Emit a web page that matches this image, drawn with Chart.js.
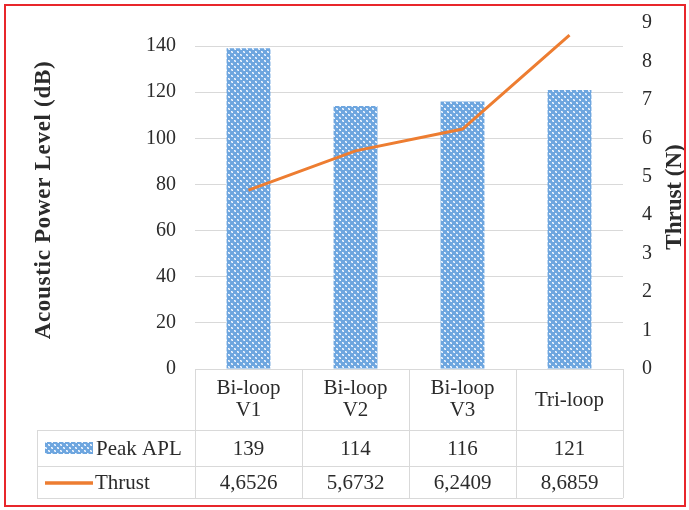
<!DOCTYPE html>
<html>
<head>
<meta charset="utf-8">
<script src="https://cdn.jsdelivr.net/npm/chart.js@4/dist/chart.umd.min.js"></script>
<style>
  html, body { margin: 0; padding: 0; background: #ffffff; }
  #wrap { width: 689px; height: 510px; position: relative; }
</style>
</head>
<body>
<div id="wrap"><canvas id="chart" width="689" height="510"></canvas></div>
<script>
// Configurations (multi-line labels as arrays)
const categories = [['Bi-loop', 'V1'], ['Bi-loop', 'V2'], ['Bi-loop', 'V3'], ['Tri-loop']];
// Peak acoustic power level, dB
const peakAPL = [139, 114, 116, 121];
// Thrust, N
const thrust = [4.6526, 5.6732, 6.2409, 8.6859];
// Axis ticks
const aplTicks = [0, 20, 40, 60, 80, 100, 120, 140];
const thrustTicks = [0, 1, 2, 3, 4, 5, 6, 7, 8, 9];

const seriesNames = ['Peak APL', 'Thrust'];
const BLUE = '#6ea6df';
const ORANGE = '#ed7d31';
const TEXT = '#2b2b2b';
const GRID = '#d9d9d9';
const SERIF = '"Liberation Serif", "Times New Roman", serif';

// Dotted-diamond fill used for the bars
function makePattern() {
  const c = document.createElement('canvas');
  c.width = 6; c.height = 6;
  const g = c.getContext('2d');
  g.fillStyle = BLUE;
  g.fillRect(0, 0, 6, 6);
  g.fillStyle = '#bcd6f3';
  g.fillRect(0, 0, 2, 2);
  g.fillRect(3, 3, 2, 2);
  g.fillStyle = '#f4f8fe';
  g.fillRect(0, 0, 1, 1);
  g.fillRect(3, 3, 1, 1);
  g.fillRect(1, 1, 1, 1);
  g.fillRect(4, 4, 1, 1);
  return g.createPattern(c, 'repeat');
}
const barFill = makePattern();

const fmtThrust = v => v.toFixed(4).replace('.', ',');
const fmtAPL = v => String(v);

// Let the layout padding alone decide where the plot area starts and ends
const noLabelOverhang = s => { s.paddingTop = 0; s.paddingBottom = 0; };

// Axis titles, data table under the plot and the frame
const decorations = {
  id: 'decorations',
  afterDraw(chart) {
    const ctx = chart.ctx;
    const area = chart.chartArea;
    const n = categories.length;
    const colW = (area.right - area.left) / n;
    const top = area.bottom;
    const r1 = top + 61, r2 = r1 + 36, r3 = r2 + 32;
    const legendLeft = 37;

    ctx.save();
    // table grid
    ctx.strokeStyle = GRID;
    ctx.lineWidth = 1;
    ctx.beginPath();
    ctx.moveTo(area.left, top + 0.5); ctx.lineTo(area.right, top + 0.5);
    [r1, r2, r3].forEach(y => { ctx.moveTo(legendLeft, y + 0.5); ctx.lineTo(area.right, y + 0.5); });
    ctx.moveTo(legendLeft + 0.5, r1); ctx.lineTo(legendLeft + 0.5, r3);
    for (let i = 0; i <= n; i++) {
      const x = Math.round(area.left + i * colW) + 0.5;
      ctx.moveTo(x, top); ctx.lineTo(x, r3);
    }
    ctx.stroke();

    // category header cells and values
    ctx.fillStyle = TEXT;
    ctx.textAlign = 'center';
    ctx.textBaseline = 'middle';
    ctx.font = '21px ' + SERIF;
    const xs = chart.scales.x;
    categories.forEach((lines, i) => {
      const cx = xs.getPixelForValue(i);
      if (lines.length === 1) {
        ctx.fillText(lines[0], cx, top + 31);
      } else {
        ctx.fillText(lines[0], cx, top + 19);
        ctx.fillText(lines[1], cx, top + 41);
      }
      ctx.fillText(fmtAPL(peakAPL[i]), cx, (r1 + r2) / 2 + 1);
      ctx.fillText(fmtThrust(thrust[i]), cx, (r2 + r3) / 2 + 1);
    });

    // legend keys in the first column
    ctx.fillStyle = barFill;
    ctx.fillRect(45, (r1 + r2) / 2 - 6, 48, 12);
    ctx.strokeStyle = ORANGE;
    ctx.lineWidth = 3.5;
    ctx.beginPath();
    ctx.moveTo(45, (r2 + r3) / 2 + 1); ctx.lineTo(93, (r2 + r3) / 2 + 1);
    ctx.stroke();
    ctx.fillStyle = TEXT;
    ctx.textAlign = 'left';
    ctx.fillText(seriesNames[0], 96, (r1 + r2) / 2 + 1);
    ctx.fillText(seriesNames[1], 95, (r2 + r3) / 2 + 1);

    // axis titles, both reading bottom to top
    ctx.font = 'bold 23px ' + SERIF;
    ctx.textAlign = 'center';
    ctx.save();
    ctx.translate(44, 200);
    ctx.rotate(-Math.PI / 2);
    ctx.letterSpacing = '0.7px';
    ctx.fillText('Acoustic Power Level (dB)', 0, 0);
    ctx.restore();
    ctx.save();
    ctx.translate(675, 197);
    ctx.rotate(-Math.PI / 2);
    ctx.fillText('Thrust (N)', 0, 0);
    ctx.restore();

    // red frame
    ctx.strokeStyle = '#e8262b';
    ctx.lineWidth = 2;
    ctx.strokeRect(5, 5, 680, 501);
    ctx.restore();
  }
};

new Chart(document.getElementById('chart'), {
  data: {
    labels: categories,
    datasets: [
      {
        type: 'line',
        label: seriesNames[1],
        data: thrust,
        yAxisID: 'y2',
        borderColor: ORANGE,
        borderWidth: 3,
        pointRadius: 0,
        tension: 0,
        order: 0
      },
      {
        type: 'bar',
        label: seriesNames[0],
        data: peakAPL,
        yAxisID: 'y',
        backgroundColor: barFill,
        borderWidth: 0,
        barPercentage: 0.41,
        categoryPercentage: 1,
        order: 1
      }
    ]
  },
  options: {
    responsive: false,
    animation: false,
    devicePixelRatio: 1,
    layout: { padding: { top: 23, bottom: 141, left: 0, right: 0 } },
    plugins: { legend: { display: false }, tooltip: { enabled: false } },
    scales: {
      x: { display: false, offset: true },
      y: {
        position: 'left',
        min: 0,
        max: 150,
        afterBuildTicks: s => { s.ticks = aplTicks.map(v => ({ value: v })); },
        afterFit: s => { s.width = 195; noLabelOverhang(s); },
        border: { display: false },
        grid: { color: GRID, lineWidth: 1, drawTicks: false },
        ticks: { padding: 19, color: TEXT, font: { family: SERIF, size: 20 } }
      },
      y2: {
        position: 'right',
        min: 0,
        max: 9,
        afterBuildTicks: s => { s.ticks = thrustTicks.map(v => ({ value: v })); },
        afterFit: s => { s.width = 66; noLabelOverhang(s); },
        border: { display: false },
        grid: { display: false, drawTicks: false },
        ticks: { padding: 19, color: TEXT, font: { family: SERIF, size: 20 } }
      }
    }
  },
  plugins: [decorations]
});
</script>
</body>
</html>
